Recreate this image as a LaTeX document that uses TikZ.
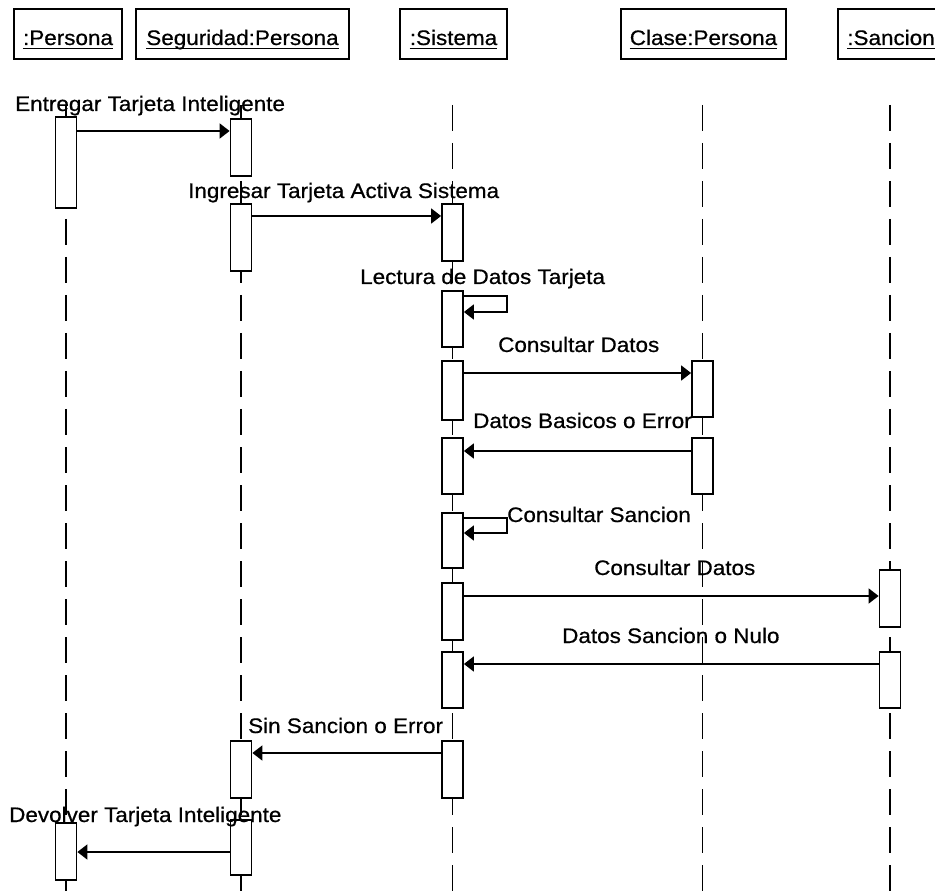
\documentclass[tikz,border=0pt]{standalone}
\usepackage{fontspec}
\setmainfont{Liberation Sans}[FakeStretch=1.07, FakeBold=0.6]
\usetikzlibrary{arrows.meta}

\begin{document}
\begin{tikzpicture}[x=1pt, y=-1pt,
  every node/.style={font=\fontsize{21}{25}\selectfont},
  head/.style={draw, line width=2.2pt, minimum height=50pt, inner sep=0},
  htext/.style={anchor=base, inner sep=0},
  uline/.style={line width=1.5pt},
  act/.style={draw, fill=white, line width=1.8pt, minimum width=21pt, inner sep=0},
  life/.style={line width=1.7pt, dash pattern=on 26pt off 12pt},
  msg/.style={line width=1.8pt, -{Triangle[length=10pt,width=15pt]}},
  lbl/.style={anchor=base west, inner sep=0},
]
\useasboundingbox (0,0) rectangle (935,893);
\clip (0,0) rectangle (935,893);

% object headers
\node[head, minimum width=108pt] (hPer) at (68,34) {};
\node[head, minimum width=213pt] (hSeg) at (242.5,34) {};
\node[head, minimum width=107pt] (hSis) at (453.5,34) {};
\node[head, minimum width=165pt] (hCla) at (703.5,34) {};
\node[head, minimum width=106pt] (hSan) at (891,34) {};

\node[htext] (tPer) at (68,45) {:Persona};
\node[htext] (tSeg) at (242.5,45) {Seguridad:Persona};
\node[htext] (tSis) at (453.5,45) {:Sistema};
\node[htext] (tCla) at (703.5,45) {Clase:Persona};
\node[htext] (tSan) at (891,45) {:Sancion};
\foreach \t in {tPer,tSeg,tSis,tCla,tSan}
  \draw[uline] ([yshift=-3.5pt]\t.base west) -- ([yshift=-3.5pt]\t.base east);

% lifelines
\coordinate (lPerA) at (66,105);    \coordinate (lPerB) at (66,893);
\coordinate (lSegA) at (241,105);   \coordinate (lSegB) at (241,893);
\coordinate (lSisA) at (452.5,105); \coordinate (lSisB) at (452.5,893);
\coordinate (lClaA) at (702.5,105); \coordinate (lClaB) at (702.5,893);
\coordinate (lSanA) at (890,105);   \coordinate (lSanB) at (890,893);
\foreach \l in {Per,Seg,Sis,Cla,San}
  \draw[life] (l\l A) -- (l\l B);

% activation bars
\node[act, minimum height=91pt] (p1) at (66,162.5) {};
\node[act, minimum height=57pt] (g1) at (241,147.5) {};
\node[act, minimum height=67pt] (g2) at (241,237.5) {};
\node[act, minimum height=57pt] (s1) at (452.5,232.5) {};
\node[act, minimum height=56pt] (s2) at (452.5,319) {};
\node[act, minimum height=59pt] (s3) at (452.5,390.5) {};
\node[act, minimum height=56pt] (c1) at (702.5,389) {};
\node[act, minimum height=56pt] (s4) at (452.5,466) {};
\node[act, minimum height=56pt] (c2) at (702.5,466) {};
\node[act, minimum height=55pt] (s5) at (452.5,540.5) {};
\node[act, minimum height=57pt] (s6) at (452.5,611.5) {};
\node[act, minimum height=57pt] (n1) at (890,598.5) {};
\node[act, minimum height=56pt] (s7) at (452.5,680) {};
\node[act, minimum height=56pt] (n2) at (890,680) {};
\node[act, minimum height=57pt] (s8) at (452.5,769.5) {};
\node[act, minimum height=57pt] (g3) at (241,769.5) {};
\node[act, minimum height=55pt] (g4) at (241,847.5) {};
\node[act, minimum height=57pt] (p2) at (66,851.5) {};

% messages
\draw[msg] (p1.east |- 0,131) -- (g1.west |- 0,131);
\draw[msg] (g2.east |- 0,216) -- (s1.west |- 0,216);
\draw[msg] (s2.east |- 0,296) -- ++(43,0) |- (s2.east |- 0,312);
\draw[msg] (s3.east |- 0,373) -- (c1.west |- 0,373);
\draw[msg] (c2.west |- 0,451) -- (s4.east |- 0,451);
\draw[msg] (s5.east |- 0,518) -- ++(43,0) |- (s5.east |- 0,533);
\draw[msg] (s6.east |- 0,596) -- (n1.west |- 0,596);
\draw[msg] (n2.west |- 0,664) -- (s7.east |- 0,664);
\draw[msg] (s8.west |- 0,753) -- (g3.east |- 0,753);
\draw[msg] (g4.west |- 0,852) -- (p2.east |- 0,852);

% message labels
\node[lbl] (m1) at (15,111) {Entregar Tarjeta Inteligente};
\node[lbl] (m2) at (188,198) {Ingresar Tarjeta Activa Sistema};
\node[lbl] (m3) at (360,284) {Lectura de Datos Tarjeta};
\node[lbl] (m4) at (498,352) {Consultar Datos};
\node[lbl] (m5) at (473,428) {Datos Basicos o Error};
\node[lbl] (m6) at (507,522) {Consultar Sancion};
\node[lbl] (m7) at (594,575) {Consultar Datos};
\node[lbl] (m8) at (562,643) {Datos Sancion o Nulo};
\node[lbl] (m9) at (248,733) {Sin Sancion o Error};
\node[lbl] (m10) at (9,822) {Devolver Tarjeta Inteligente};
\end{tikzpicture}
\end{document}
